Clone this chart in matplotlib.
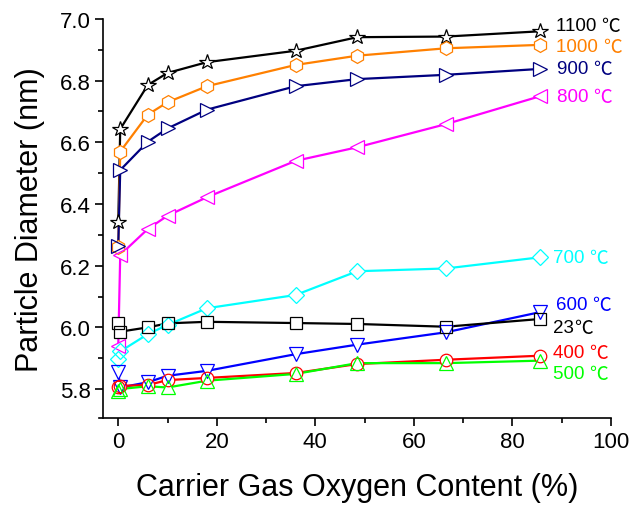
import matplotlib
matplotlib.use("Agg")
import matplotlib.pyplot as plt
from matplotlib.ticker import MultipleLocator

plt.rcParams["font.family"] = ["Liberation Sans", "DejaVu Sans"]

# Carrier gas oxygen content (%)
oxygen = [0, 0.4, 6, 10, 18, 36, 48.5, 66.5, 85.5]

# Particle diameter (nm) for each furnace temperature
d_1100 = [6.341, 6.643, 6.786, 6.825, 6.860, 6.897, 6.941, 6.943, 6.960]
d_1000 = [6.259, 6.570, 6.690, 6.730, 6.782, 6.851, 6.881, 6.905, 6.916]
d_900 = [6.265, 6.510, 6.602, 6.645, 6.706, 6.782, 6.805, 6.819, 6.838]
d_800 = [5.940, 6.235, 6.319, 6.362, 6.422, 6.540, 6.584, 6.659, 6.749]
d_700 = [5.897, 5.922, 5.978, 6.008, 6.062, 6.105, 6.182, 6.191, 6.227]
d_600 = [5.854, 5.805, 5.822, 5.843, 5.859, 5.913, 5.944, 5.984, 6.049]
d_23 = [6.013, 5.986, 6.000, 6.013, 6.018, 6.014, 6.011, 6.002, 6.027]
d_400 = [5.805, 5.810, 5.813, 5.829, 5.836, 5.852, 5.881, 5.895, 5.908]
d_500 = [5.794, 5.800, 5.809, 5.805, 5.827, 5.849, 5.884, 5.884, 5.892]

# temperature labels (number part; the degree sign is drawn after it)
temps = ["1100 ", "1000 ", "900 ", "800 ", "700 ", "600 ", "23", "400 ", "500 "]
unit = "℃"

# styling for each curve: values, colour, marker, marker size
styles = [
    (d_1100, "#000000", "*", 11.5),
    (d_1000, "#FF8000", "h", 10),
    (d_900, "#000080", ">", 10),
    (d_800, "#FF00FF", "<", 10),
    (d_700, "#00FFFF", "D", 8),
    (d_600, "#0000FF", "v", 10),
    (d_23, "#000000", "s", 8),
    (d_400, "#FF0000", "o", 9),
    (d_500, "#00FF00", "^", 9.5),
]

# text placement of the curve labels (x, y in data units)
label_xy = [(88.8, 6.978), (88.8, 6.910), (89.0, 6.838), (89.0, 6.750),
            (88.2, 6.228), (88.8, 6.073), (88.2, 6.001), (88.2, 5.920),
            (88.2, 5.849)]

fig = plt.figure(figsize=(6.34, 5.06), dpi=100)
ax = fig.add_axes([0.1629, 0.1719, 0.8008, 0.7886])

# lines first, then white marker bodies, then hollow outlines on top
for vals, col, mk, ms in styles:
    ax.plot(oxygen, vals, color=col, lw=1.6, zorder=2)
for vals, col, mk, ms in styles:
    ax.plot(oxygen, vals, ls="none", marker=mk, ms=ms, mfc="white",
            mec="none", zorder=3)
for vals, col, mk, ms in styles:
    ax.plot(oxygen, vals, ls="none", marker=mk, ms=ms, mfc="none",
            mec=col, mew=0.9, zorder=4)

for (vals, col, mk, ms), lab, (tx, ty) in zip(styles, temps, label_xy):
    t = ax.text(tx, ty, lab, color=col, fontsize=13.5, va="center",
                ha="left", family="Liberation Sans")
    ax.annotate(unit, xy=(1.0, 0.5), xycoords=t, va="center", ha="left",
                color=col, fontsize=13.5,
                family=["Noto Sans CJK SC", "DejaVu Sans"])

ax.set_xlim(-3.04, 100)
ax.set_ylim(5.706, 7.0)
ax.xaxis.set_major_locator(MultipleLocator(20))
ax.xaxis.set_minor_locator(MultipleLocator(10))
ax.yaxis.set_major_locator(MultipleLocator(0.2))
ax.yaxis.set_minor_locator(MultipleLocator(0.1))
ax.yaxis.set_major_formatter(plt.FormatStrFormatter("%.1f"))

for side in ("top", "right"):
    ax.spines[side].set_visible(False)
for side in ("left", "bottom"):
    ax.spines[side].set_linewidth(1.2)
ax.spines["bottom"].set_bounds(-4.0, 100)

ax.tick_params(which="major", direction="out", length=6, width=1.2,
               labelsize=16, pad=3)
ax.tick_params(which="minor", direction="out", length=3.5, width=1.2)

ax.set_xlabel("Carrier Gas Oxygen Content (%)", fontsize=22, labelpad=15)
ax.set_ylabel("Particle Diameter (nm)", fontsize=22, labelpad=11)

fig.savefig("out.png", dpi=100)
